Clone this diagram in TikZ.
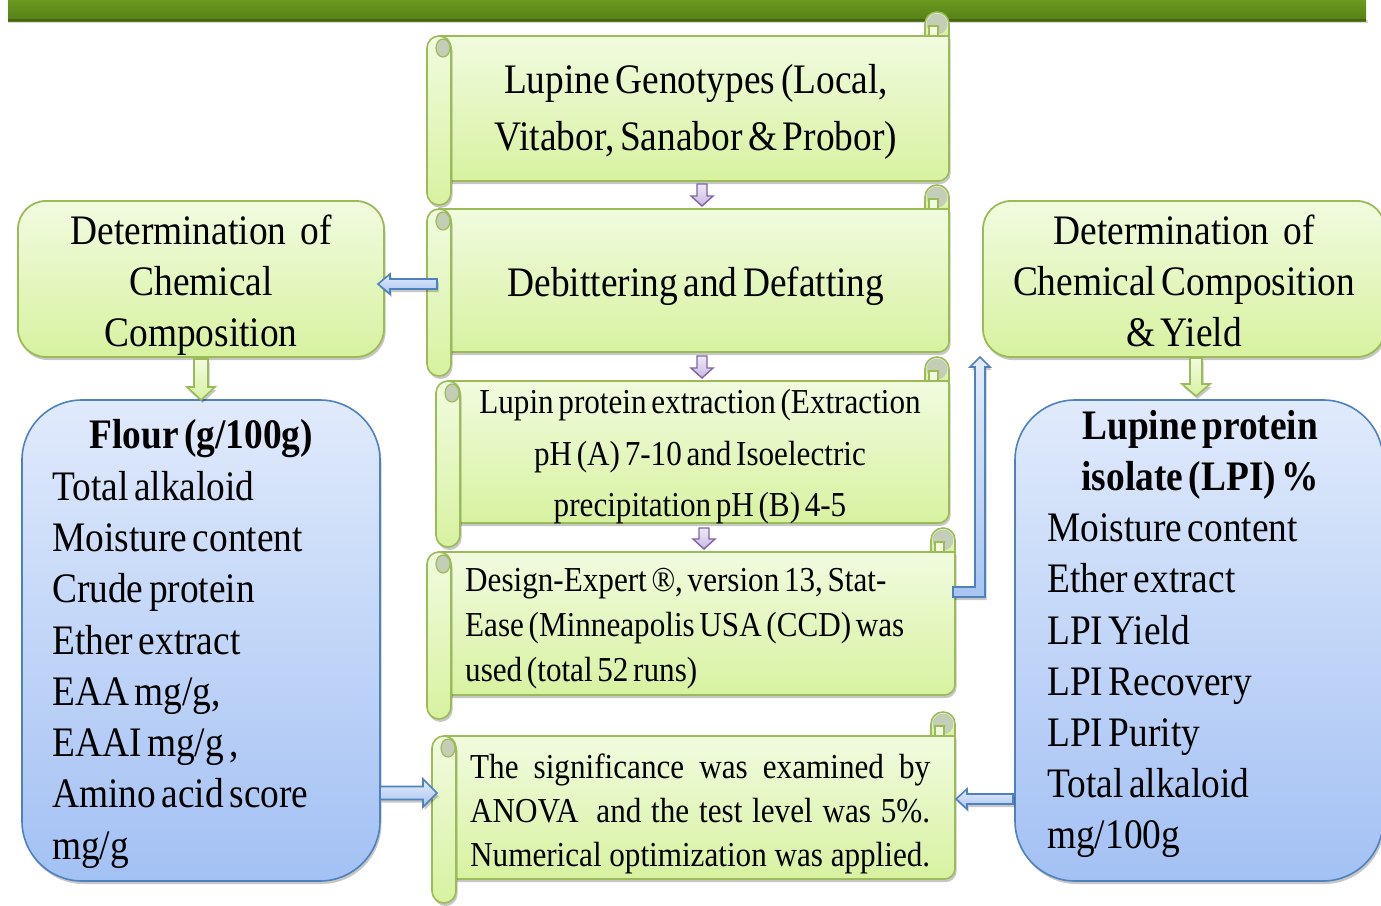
\documentclass[tikz,border=0pt]{standalone}
\usepackage{fontspec}
\setmainfont{Liberation Serif}[FakeStretch=0.89,WordSpace=0.6]
\usetikzlibrary{calc,shadows}
\definecolor{olv}{HTML}{9BBB59}
\definecolor{scrTop}{HTML}{F1FBDF}
\definecolor{scrBot}{HTML}{D7F2A0}
\definecolor{curl}{HTML}{C4CDB6}
\definecolor{bluLine}{HTML}{4F81BD}
\definecolor{bluTop}{HTML}{E0EAFB}
\definecolor{bluBot}{HTML}{A3C1F4}
\definecolor{purLine}{HTML}{8064A2}
\definecolor{purTop}{HTML}{EEE9F7}
\definecolor{purBot}{HTML}{C8B9E2}
\definecolor{barTop}{HTML}{6A9A1E}
\definecolor{barBot}{HTML}{557F17}
\definecolor{barrowTop}{HTML}{E3ECFB}
\definecolor{barrowBot}{HTML}{A8C4F0}
\newcommand{\fs}[2]{\fontsize{#1}{#2}\selectfont}
\tikzset{
  shad/.style={drop shadow={shadow xshift=1.5pt, shadow yshift=-3pt, opacity=0.22, fill=black}},
  sfill/.style={draw=olv, line width=1.6pt, top color=scrTop, bottom color=scrBot},
  gbox/.style={draw=olv, line width=1.8pt, rounded corners=28pt, top color=scrTop, bottom color=scrBot, inner sep=0, shad},
  bbox/.style={draw=bluLine, line width=1.6pt, rounded corners=60pt, top color=bluTop, bottom color=bluBot, inner sep=0, shad},
  txt/.style={inner sep=0, text=black},
  parrow/.style={draw=purLine, line width=1.4pt, top color=purTop, bottom color=purBot},
  blarrow/.style={draw=bluLine, line width=1.6pt, top color=barrowTop, bottom color=barrowBot, shad},
  grarrow/.style={draw=olv, line width=1.6pt, top color=scrTop, bottom color=scrBot, shad},
  ghost/.style={inner sep=0, draw=none}
}
% scroll: L T R B
\newcommand{\scrollshape}[4]{%
  \path[sfill, shad] ({#1+12},{#2+24}) -- (#3,{#2+24}) -- (#3,{#4-34})
     .. controls (#3,{#4-28.5}) and ({#3-5.5},{#4-24}) .. ({#3-10},{#4-24})
     -- ({#1+12},{#4-24}) -- cycle;
  \path[sfill, shad, rounded corners=12pt] (#1,{#2+24}) rectangle ({#1+24},#4);
  \path[draw=olv, line width=1.2pt, fill=curl] ({#1+16},{#2+36}) ellipse (7pt and 9pt);
  \path[sfill] ({#3-24},{#2+24}) -- ({#3-24},{#2+12})
     .. controls ({#3-24},{#2+5.4}) and ({#3-18.6},#2) .. ({#3-12},#2)
     .. controls ({#3-5.4},#2) and (#3,{#2+5.4}) .. (#3,{#2+12})
     -- (#3,{#2+24}) -- cycle;
  \path[fill=curl] ({#3-12},{#2+12}) circle (10.5pt);
  \path[fill=scrTop, draw=olv, line width=1.2pt] ({#3-20},{#2+14}) rectangle ({#3-11},{#2+24});
}
% horizontal block arrow: tail, tip, shaft half, head half, head length (signed)
\newcommand{\harrow}[6]{%
  \path[#6] let \p1=#1, \p2=#2 in (\x1,\y1-#3) -- (\x1,\y1+#3) -- (\x2+#5,\y1+#3)
    -- (\x2+#5,\y1+#4) -- (\x2,\y1) -- (\x2+#5,\y1-#4) -- (\x2+#5,\y1-#3) -- cycle;}
% vertical block arrow
\newcommand{\varrow}[6]{%
  \path[#6] let \p1=#1, \p2=#2 in (\x1-#3,\y1) -- (\x1+#3,\y1) -- (\x1+#3,\y2+#5)
    -- (\x1+#4,\y2+#5) -- (\x1,\y2) -- (\x1-#4,\y2+#5) -- (\x1-#3,\y2+#5) -- cycle;}
\begin{document}
\begin{tikzpicture}[x=1pt,y=-1pt]
\clip (0,0) rectangle (1381,905);
\fill[white] (0,0) rectangle (1381,905);
% top bar
\fill[black!15] (8,20) rectangle (1368,23);
\path[top color=barTop, bottom color=barBot] (8,0) rectangle (1366,21);
\fill[barBot!80!black] (8,19) rectangle (1366,21);

% scrolls
\scrollshape{427}{12}{949}{205}
\node[ghost, minimum width=510pt, minimum height=145pt] (s1) at (694,108.5) {};
\scrollshape{427}{185}{949}{376}
\node[ghost, minimum width=510pt, minimum height=143pt] (s2) at (694,280.5) {};
\scrollshape{436}{357}{949}{547}
\node[ghost, minimum width=501pt, minimum height=142pt] (s3) at (698.5,452) {};
\scrollshape{427}{528}{955}{719}
\node[ghost, minimum width=516pt, minimum height=143pt] (s4) at (697,623.5) {};
\scrollshape{432}{712}{955}{903}
\node[ghost, minimum width=511pt, minimum height=145pt] (s5) at (699.5,808.5) {};

% boxes
\node[gbox, minimum width=366pt, minimum height=156pt] (gL) at (201,279) {};
\node[gbox, minimum width=402pt, minimum height=156pt] (gR) at (1184,279) {};
\node[bbox, minimum width=358pt, minimum height=481pt] (bL) at (201,640.5) {};
\node[bbox, minimum width=368pt, minimum height=481pt] (bR) at (1199,640.5) {};

% texts
\node[txt, align=center, font=\fs{42}{57}] (t1) at (696,112)
  {Lupine Genotypes (Local,\\Vitabor, Sanabor \& Probor)};
\node[txt, font=\fs{42}{57}] (t2) at (696,286) {Debittering and Defatting};
\node[txt, align=center, font=\fs{35}{51.5}] (t3) at (700,457)
  {Lupin protein extraction (Extraction\\pH (A) 7-10 and Isoelectric\\precipitation pH (B) 4-5};
\node[txt, anchor=west, align=left, font=\fs{35}{45}] (t4) at (465,629)
  {Design-Expert ®, version 13, Stat-\\Ease (Minneapolis USA (CCD) was\\used (total 52 runs)};
\node[txt, anchor=west, align=left, font=\fs{35}{44}] (t5) at (470,814)
  {\makebox[460pt][s]{The significance was examined by}\\
   \makebox[460pt][s]{ANOVA\hspace{8pt} and the test level was 5\%.}\\
   \makebox[460pt][s]{Numerical optimization was applied.}};
\node[txt, align=center, font=\fs{42}{51}] (gLt) at (201,285)
  {Determination\hspace{14pt}of\\Chemical\\Composition};
\node[txt, align=center, font=\fs{42}{51}] (gRt) at (1184,281)
  {Determination\hspace{14pt}of\\Chemical Composition\\\& Yield};
\node[txt, anchor=west, align=left, font=\fs{42}{51.3}] (bLt) at (52,644)
  {\makebox[298pt][c]{\bfseries Flour (g/100g)}\\Total alkaloid\\Moisture content\\Crude protein\\Ether extract\\EAA mg/g,\\EAAI mg/g ,\\Amino acid score\\mg/g};
\node[txt, anchor=west, align=left, font=\fs{42}{51.2}] (bRt) at (1047,634)
  {\makebox[306pt][c]{\bfseries Lupine protein}\\\makebox[306pt][c]{\bfseries isolate (LPI) \%}\\Moisture content\\Ether extract\\LPI Yield\\LPI Recovery\\LPI Purity\\Total alkaloid\\mg/100g};

% connector end points
\coordinate (p1a) at (702,184); \coordinate (p1b) at (702,206);
\coordinate (p2a) at (702,356); \coordinate (p2b) at (702,378);
\coordinate (p3a) at (704,528); \coordinate (p3b) at (704,549);
\coordinate (bAa) at (437,284); \coordinate (bAb) at (378,284);
\coordinate (bBa) at (380,793); \coordinate (bBb) at (437,793);
\coordinate (bCa) at (1013,799); \coordinate (bCb) at (956,799);
\coordinate (gAa) at (201,359); \coordinate (gAb) at (201,400);
\coordinate (gBa) at (1196,358); \coordinate (gBb) at (1196,396);
\coordinate (elbTail) at (953,592); \coordinate (elbTip) at (980,357);

% purple arrows
\varrow{(p1a)}{(p1b)}{5pt}{11pt}{10pt}{parrow}
\varrow{(p2a)}{(p2b)}{5pt}{11pt}{10pt}{parrow}
\varrow{(p3a)}{(p3b)}{5pt}{11pt}{10pt}{parrow}
% green arrows
\varrow{(gAa)}{(gAb)}{7pt}{14pt}{13pt}{grarrow}
\varrow{(gBa)}{(gBb)}{6pt}{14pt}{12pt}{grarrow}
% blue arrows
\harrow{(bAa)}{(bAb)}{5pt}{10pt}{12pt}{blarrow}
\harrow{(bBa)}{(bBb)}{6.5pt}{14pt}{-14pt}{blarrow}
\harrow{(bCa)}{(bCb)}{5pt}{10pt}{11pt}{blarrow}
\path[blarrow] let \p1=(elbTail), \p2=(elbTip) in
  (\x1,\y1+5pt) -- (\x2-5pt,\y1+5pt) -- (\x2-5pt,\y2-10pt) -- (\x2-10pt,\y2-10pt)
  -- (\x2,\y2) -- (\x2+10pt,\y2-10pt) -- (\x2+5pt,\y2-10pt) -- (\x2+5pt,\y1-5pt)
  -- (\x1,\y1-5pt) -- cycle;
\end{tikzpicture}
\end{document}
